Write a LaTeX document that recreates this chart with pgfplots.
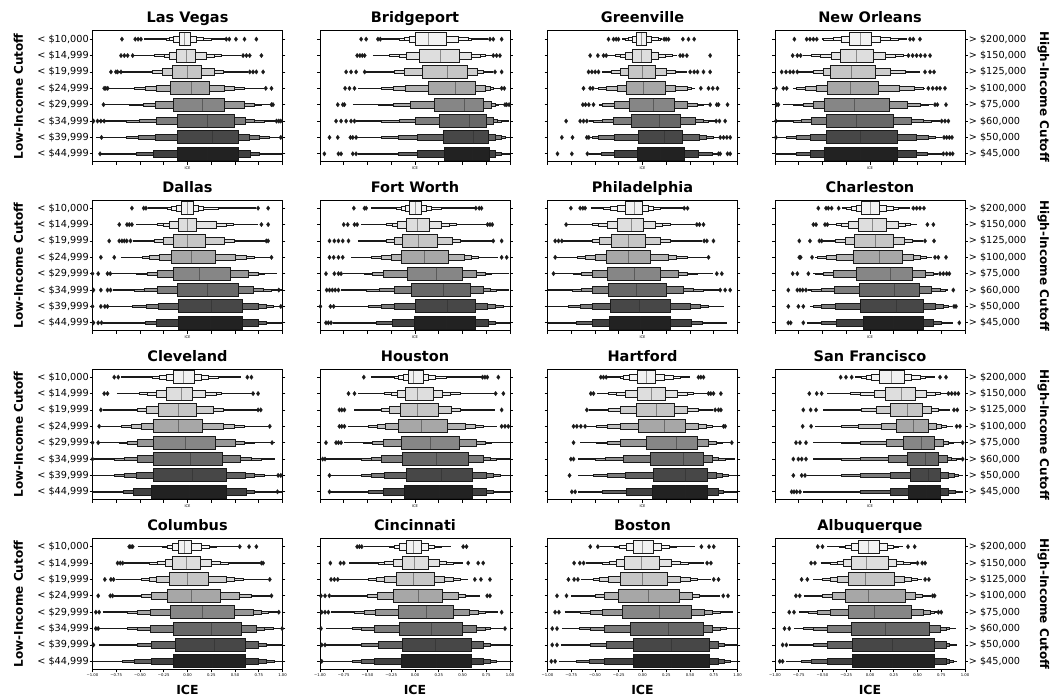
\documentclass[border=0pt]{standalone}
\usepackage{fontspec}
\setmainfont{DejaVu Sans}
\usepackage{pgfplots}
\pgfplotsset{compat=1.18}
\usepgfplotslibrary{statistics}

% one grey per income cutoff, light (top row) to dark (bottom row)
\definecolor{g0}{HTML}{F2F2F2}
\definecolor{g1}{HTML}{DEDEDE}
\definecolor{g2}{HTML}{C6C6C6}
\definecolor{g3}{HTML}{A7A7A7}
\definecolor{g4}{HTML}{868686}
\definecolor{g5}{HTML}{686868}
\definecolor{g6}{HTML}{474747}
\definecolor{g7}{HTML}{222222}
\definecolor{edge}{HTML}{1A1A1A}

\pgfplotsset{
  lvbox/.style 2 args={boxplot/draw direction=x, boxplot/box extend=#2,
    boxplot/every box/.style={fill=#1, draw=edge, line width=0.65pt},
    boxplot/every whisker/.style={draw=none},
    boxplot/every median/.style={draw=none}},
  lviqr/.style={boxplot/draw direction=x, boxplot/box extend=0.8,
    boxplot/every box/.style={fill=#1, draw=edge, line width=1pt},
    boxplot/every whisker/.style={draw=none},
    boxplot/every median/.style={draw=black!85, draw opacity=0.45, line width=1pt}},
  lvline/.style={draw=edge, line width=1.5pt, mark=none},
  lvout/.style={only marks, mark=diamond*, mark size=2.3pt,
    mark options={fill=edge, draw=edge, line width=0.2pt}},
  panel/.style={
    scale only axis, width=190pt, height=131pt, anchor=north west,
    xmin=-1, xmax=1, ymin=-0.5, ymax=7.5, y dir=reverse,
    axis line style={line width=1pt, black},
    xtick={-1,-0.75,-0.5,-0.25,0,0.25,0.5,0.75,1}, ytick={0,1,2,3,4,5,6,7},
    xtick pos=left, ytick pos=both, tick align=outside,
    major tick length=2.8pt, every tick/.style={black, line width=0.8pt},
    xticklabels={}, yticklabels={},
    tick label style={font=\fontsize{9.7}{11}\selectfont},
    yticklabel style={inner sep=0.8pt},
    xlabel={ICE},
    xlabel style={font=\fontsize{3.6}{4}\selectfont, at={(axis description cs:0.5,0)}, anchor=center, yshift=-6.5pt},
    title style={font=\bfseries\fontsize{14.5}{17}\selectfont, at={(axis description cs:0.5,1)}, anchor=base, yshift=2pt},
  },
  leftcol/.style={
    yticklabel pos=left,
    yticklabels={{< \$10,000},{< \$14,999},{< \$19,999},{< \$24,999},{< \$29,999},{< \$34,999},{< \$39,999},{< \$44,999}},
    ylabel={Low-Income Cutoff},
    ylabel style={font=\bfseries\fontsize{12}{14}\selectfont, at={(axis description cs:0,0.5)}, anchor=center, yshift=74pt}},
  rightcol/.style={
    yticklabel pos=right,
    yticklabels={{> \$200,000},{> \$150,000},{> \$125,000},{> \$100,000},{> \$75,000},{> \$60,000},{> \$50,000},{> \$45,000}},
    ylabel={High-Income Cutoff},
    ylabel style={font=\bfseries\fontsize{12}{14}\selectfont, at={(axis description cs:1,0.5)}, anchor=center, rotate=180, yshift=78.5pt}},
  bottomrow/.style={
    xticklabels={−1.00,−0.75,−0.50,−0.25,0.00,0.25,0.50,0.75,1.00},
    xticklabel style={font=\fontsize{3.8}{4}\selectfont, inner sep=0.8pt},
    xlabel style={font=\bfseries\fontsize{12.5}{14}\selectfont, yshift=-13.5pt}},
}

% one letter-value row: y, q1, median, q3, level-2 lo/hi, level-3 lo/hi, {level-4 lo/hi/tail lo/tail hi}
\def\lvtail#1#2/#3/#4/#5\relax{%
  \addplot[lvline] coordinates {(#4,#1) (#5,#1)};
  \addplot[lvbox={g#1!58!white}{0.1}, boxplot prepared={draw position=#1, lower whisker=#2, lower quartile=#2, median=#2, upper quartile=#3, upper whisker=#3}] coordinates {};
}
\newcommand\lvrow[9]{%
  \lvtail{#1}#9\relax
  \addplot[lvbox={g#1!72!white}{0.2}, boxplot prepared={draw position=#1, lower whisker=#7, lower quartile=#7, median=#7, upper quartile=#8, upper whisker=#8}] coordinates {};
  \addplot[lvbox={g#1!86!white}{0.4}, boxplot prepared={draw position=#1, lower whisker=#5, lower quartile=#5, median=#5, upper quartile=#6, upper whisker=#6}] coordinates {};
  \addplot[lviqr=g#1, boxplot prepared={draw position=#1, lower whisker=#2, lower quartile=#2, median=#3, upper quartile=#4, upper whisker=#4}] coordinates {};
}
% outlying tracts of one row: y, list of ICE values
\newcommand\outl[2]{%
  \gdef\olacc{}%
  \foreach \v in {#2}{\xdef\olacc{\olacc(\v,#1)}}%
  \edef\oltmp{\noexpand\addplot[lvout] coordinates {\olacc};}%
  \oltmp}

\begin{document}
\begin{tikzpicture}
\path[use as bounding box] (0,0) rectangle (1052pt,-695pt);

% ---------------- row 1 ----------------
\begin{axis}[panel, leftcol, at={(92.5pt,-31pt)}, title={Las Vegas}]
\lvrow{0}{-0.085}{-0.028}{0.028}{-0.144}{0.092}{-0.19}{0.162}{-0.225/0.25/-0.454/0.39}
\lvrow{1}{-0.12}{-0.014}{0.085}{-0.19}{0.197}{-0.243}{0.285}{-0.35/0.356/-0.56/0.567}
\lvrow{2}{-0.155}{-0.004}{0.144}{-0.27}{0.278}{-0.366}{0.373}{-0.454/0.46/-0.72/0.637}
\lvrow{3}{-0.18}{0.046}{0.232}{-0.33}{0.39}{-0.447}{0.496}{-0.56/0.6/-0.86/0.81}
\lvrow{4}{-0.144}{0.155}{0.39}{-0.338}{0.6}{-0.47}{0.708}{-0.613/0.778/-0.877/0.884}
\lvrow{5}{-0.109}{0.215}{0.496}{-0.33}{0.61}{-0.507}{0.708}{-0.648/0.81/-0.93/0.954}
\lvrow{6}{-0.102}{0.261}{0.539}{-0.342}{0.648}{-0.518}{0.76}{-0.648/0.866/-0.965/1.0}
\lvrow{7}{-0.102}{0.215}{0.539}{-0.356}{0.665}{-0.542}{0.76}{-0.673/0.85/-0.93/1.0}
\outl{0}{-0.69,-0.55,-0.52,-0.49,0.408,0.44,0.51,0.60,0.725}
\outl{1}{-0.70,-0.665,-0.63,-0.577,0.585,0.62,0.655,0.778}
\outl{2}{-0.806,-0.754,-0.736,-0.70,0.655,0.69,0.725,0.796}
\outl{3}{-0.877,-0.86,-0.84,0.824,0.884}
\outl{4}{-0.884,0.884,0.90}
\outl{5}{-0.99,-0.947,-0.912,-0.877,0.937,0.961,0.982}
\outl{6}{-0.905,0.982}
\outl{7}{-0.92}
\end{axis}

\begin{axis}[panel, at={(320pt,-31pt)}, title={Bridgeport}]
\lvrow{0}{0.007}{0.144}{0.331}{-0.056}{0.454}{-0.109}{0.56}{-0.16/0.595/-0.356/0.771}
\lvrow{1}{0.049}{0.271}{0.472}{-0.092}{0.595}{-0.162}{0.683}{-0.268/0.736/-0.444/0.806}
\lvrow{2}{0.077}{0.338}{0.553}{-0.109}{0.658}{-0.215}{0.718}{-0.32/0.771/-0.514/0.824}
\lvrow{3}{0.137}{0.426}{0.637}{-0.102}{0.743}{-0.232}{0.789}{-0.356/0.824/-0.595/0.894}
\lvrow{4}{0.208}{0.518}{0.718}{-0.049}{0.806}{-0.232}{0.842}{-0.39/0.877/-0.655/0.982}
\lvrow{5}{0.261}{0.57}{0.754}{0.007}{0.824}{-0.162}{0.87}{-0.356/0.912/-0.62/0.99}
\lvrow{6}{0.296}{0.613}{0.778}{0.025}{0.849}{-0.18}{0.912}{-0.356/0.947/-0.673/1.0}
\lvrow{7}{0.306}{0.60}{0.782}{0.025}{0.849}{-0.18}{0.905}{-0.356/0.947/-0.60/1.0}
\outl{0}{-0.567,-0.514,-0.39,-0.365,0.789,0.824,0.912}
\outl{1}{-0.609,-0.58,-0.555,-0.53,0.824,0.859,0.894}
\outl{2}{-0.725,-0.673,-0.62,-0.53,0.842,0.912}
\outl{3}{-0.736,-0.69,-0.637,0.912,0.94}
\outl{4}{-0.813,-0.76,-0.743,0.947,0.965,0.99}
\outl{5}{-0.831,-0.778,-0.725,-0.673,-0.637}
\outl{6}{-0.90,-0.813,-0.68,-0.655,-0.62}
\outl{7}{-0.954,-0.806,-0.778,-0.655,-0.62}
\end{axis}

\begin{axis}[panel, at={(547.5pt,-31pt)}, title={Greenville}]
\lvrow{0}{-0.067}{-0.011}{0.046}{-0.112}{0.098}{-0.147}{0.168}{-0.18/0.19/-0.218/0.21}
\lvrow{1}{-0.105}{-0.011}{0.091}{-0.182}{0.168}{-0.235}{0.239}{-0.288/0.309/-0.375/0.361}
\lvrow{2}{-0.147}{-0.004}{0.14}{-0.235}{0.249}{-0.323}{0.344}{-0.375/0.414/-0.428/0.467}
\lvrow{3}{-0.172}{0.014}{0.239}{-0.27}{0.344}{-0.386}{0.467}{-0.46/0.51/-0.498/0.554}
\lvrow{4}{-0.137}{0.116}{0.337}{-0.298}{0.467}{-0.428}{0.572}{-0.45/0.64/-0.463/0.695}
\lvrow{5}{-0.112}{0.179}{0.396}{-0.305}{0.554}{-0.428}{0.642}{-0.516/0.695/-0.558/0.765}
\lvrow{6}{-0.042}{0.228}{0.425}{-0.298}{0.60}{-0.463}{0.677}{-0.53/0.747/-0.551/0.80}
\lvrow{7}{-0.053}{0.186}{0.442}{-0.298}{0.589}{-0.435}{0.73}{-0.516/0.782/-0.558/0.79}
\outl{0}{-0.358,-0.305,-0.277,-0.253,0.228,0.249,0.274,0.425,0.484,0.544}
\outl{1}{-0.551,-0.47,-0.41,-0.382,0.396,0.425,0.467,0.712}
\outl{2}{-0.568,-0.533,-0.498,-0.463,0.502,0.544,0.579,0.642,0.712}
\outl{3}{-0.621,-0.551,-0.523,0.614,0.695,0.74,0.789}
\outl{4}{-0.628,-0.6,-0.565,-0.516,0.712,0.782,0.8,0.895}
\outl{5}{-0.804,-0.656,-0.621,-0.586,0.775,0.81,0.87}
\outl{6}{-0.849,-0.737,-0.586,-0.565,0.818,0.853,0.888,0.923}
\outl{7}{-0.895,-0.744,-0.58,0.8,0.818,0.895,0.923}
\end{axis}

\begin{axis}[panel, rightcol, at={(775pt,-31pt)}, title={New Orleans}]
\lvrow{0}{-0.211}{-0.095}{0.018}{-0.298}{0.105}{-0.386}{0.211}{-0.491/0.298/-0.509/0.386}
\lvrow{1}{-0.309}{-0.14}{0.035}{-0.404}{0.158}{-0.526}{0.263}{-0.614/0.351/-0.702/0.386}
\lvrow{2}{-0.414}{-0.193}{0.06}{-0.491}{0.211}{-0.596}{0.368}{-0.684/0.474/-0.754/0.526}
\lvrow{3}{-0.449}{-0.204}{0.088}{-0.561}{0.309}{-0.684}{0.463}{-0.772/0.561/-0.807/0.579}
\lvrow{4}{-0.474}{-0.165}{0.204}{-0.596}{0.396}{-0.702}{0.526}{-0.807/0.614/-0.912/0.667}
\lvrow{5}{-0.463}{-0.14}{0.246}{-0.614}{0.439}{-0.719}{0.561}{-0.807/0.649/-0.982/0.737}
\lvrow{6}{-0.456}{-0.098}{0.288}{-0.625}{0.484}{-0.772}{0.614}{-0.877/0.684/-0.982/0.754}
\lvrow{7}{-0.481}{-0.105}{0.288}{-0.632}{0.484}{-0.779}{0.604}{-0.877/0.684/-1.0/0.754}
\outl{0}{-0.796,-0.667,-0.632,-0.596,-0.561,0.421,0.456,0.526}
\outl{1}{-0.814,-0.765,-0.73,0.404,0.449,0.491,0.533,0.579,0.632}
\outl{2}{-0.93,-0.884,-0.842,-0.807,-0.765,0.579,0.632,0.674}
\outl{3}{-0.99,-0.912,-0.877,0.614,0.66,0.702,0.737,0.789}
\outl{4}{-0.982,-0.965,0.684,0.709,0.8}
\outl{5}{-0.99,0.754,0.789,0.825}
\outl{6}{-0.99,0.779,0.807,0.835,0.863}
\outl{7}{0.772,0.807,0.842,0.87}
\end{axis}

% ---------------- row 2 ----------------
\begin{axis}[panel, leftcol, at={(92.5pt,-200pt)}, title={Dallas}]
\lvrow{0}{-0.06}{0.0}{0.063}{-0.12}{0.109}{-0.173}{0.162}{-0.215/0.32/-0.419/0.725}
\lvrow{1}{-0.095}{0.0}{0.095}{-0.19}{0.303}{-0.25}{0.408}{-0.313/0.479/-0.542/0.743}
\lvrow{2}{-0.144}{-0.004}{0.19}{-0.25}{0.39}{-0.349}{0.496}{-0.419/0.585/-0.577/0.813}
\lvrow{3}{-0.173}{0.039}{0.292}{-0.296}{0.504}{-0.401}{0.62}{-0.472/0.708/-0.70/0.901}
\lvrow{4}{-0.144}{0.127}{0.454}{-0.313}{0.637}{-0.426}{0.743}{-0.542/0.813/-0.806/0.937}
\lvrow{5}{-0.109}{0.208}{0.532}{-0.313}{0.697}{-0.454}{0.796}{-0.56/0.884/-0.789/0.99}
\lvrow{6}{-0.092}{0.25}{0.577}{-0.306}{0.743}{-0.437}{0.831}{-0.577/0.901/-0.824/1.0}
\lvrow{7}{-0.092}{0.243}{0.577}{-0.331}{0.743}{-0.447}{0.831}{-0.595/0.901/-0.894/1.0}
\outl{0}{-0.585,-0.461,-0.437,0.743,0.849}
\outl{1}{-0.718,-0.637,-0.613,-0.585,0.778,0.849}
\outl{2}{-0.824,-0.718,-0.69,-0.665,-0.64,-0.6,0.83,0.849}
\outl{3}{-0.912,-0.771,0.884}
\outl{4}{-1.0,-0.94,-0.842,-0.813}
\outl{5}{-0.99,-0.912,-0.842,-0.81,0.961}
\outl{6}{-1.0,-0.912,-0.87,-0.842,0.982}
\outl{7}{-0.99,-0.94,-0.905}
\end{axis}

\begin{axis}[panel, at={(320pt,-200pt)}, title={Fort Worth}]
\lvrow{0}{-0.056}{0.004}{0.067}{-0.102}{0.12}{-0.144}{0.173}{-0.197/0.278/-0.461/0.63}
\lvrow{1}{-0.092}{0.025}{0.148}{-0.187}{0.278}{-0.243}{0.366}{-0.303/0.437/-0.567/0.754}
\lvrow{2}{-0.127}{0.042}{0.232}{-0.222}{0.39}{-0.303}{0.482}{-0.391/0.577/-0.602/0.806}
\lvrow{3}{-0.137}{0.102}{0.349}{-0.25}{0.518}{-0.356}{0.588}{-0.461/0.666/-0.673/0.877}
\lvrow{4}{-0.081}{0.225}{0.496}{-0.338}{0.648}{-0.444}{0.736}{-0.532/0.806/-0.761/0.99}
\lvrow{5}{-0.039}{0.296}{0.588}{-0.222}{0.718}{-0.373}{0.789}{-0.514/0.859/-0.778/0.99}
\lvrow{6}{0.004}{0.342}{0.637}{-0.222}{0.764}{-0.356}{0.842}{-0.496/0.93/-0.849/1.0}
\lvrow{7}{-0.01}{0.33}{0.637}{-0.243}{0.771}{-0.408}{0.842}{-0.532/0.93/-0.866/1.0}
\outl{0}{-0.644,-0.532,-0.514,0.64,0.676,0.70}
\outl{1}{-0.75,-0.708,-0.637,-0.609,0.764,0.789,0.813}
\outl{2}{-0.9,-0.849,-0.806,-0.761,-0.7,0.824,0.912}
\outl{3}{-0.9,-0.856,-0.806,-0.761,0.912,0.965}
\outl{4}{-0.937,-0.849,-0.806,-0.778}
\outl{5}{-0.93,-0.9,-0.87,-0.84,-0.806}
\outl{6}{-0.996,-0.89,-0.856}
\outl{7}{-0.937,-0.912,-0.884}
\end{axis}

\begin{axis}[panel, at={(547.5pt,-200pt)}, title={Philadelphia}]
\lvrow{0}{-0.182}{-0.081}{0.0}{-0.27}{0.063}{-0.34}{0.116}{-0.411/0.186/-0.544/0.432}
\lvrow{1}{-0.263}{-0.112}{0.011}{-0.375}{0.133}{-0.463}{0.204}{-0.533/0.291/-0.796/0.554}
\lvrow{2}{-0.33}{-0.147}{0.035}{-0.453}{0.186}{-0.533}{0.291}{-0.604/0.361/-0.832/0.625}
\lvrow{3}{-0.375}{-0.147}{0.088}{-0.498}{0.267}{-0.604}{0.361}{-0.691/0.467/-0.902/0.677}
\lvrow{4}{-0.365}{-0.088}{0.193}{-0.523}{0.372}{-0.639}{0.467}{-0.726/0.572/-0.919/0.747}
\lvrow{5}{-0.358}{-0.06}{0.249}{-0.533}{0.432}{-0.639}{0.537}{-0.744/0.642/-0.99/0.80}
\lvrow{6}{-0.333}{-0.032}{0.298}{-0.523}{0.502}{-0.656}{0.607}{-0.779/0.695/-1.0/0.853}
\lvrow{7}{-0.347}{-0.025}{0.298}{-0.533}{0.509}{-0.698}{0.632}{-0.796/0.73/-1.0/0.888}
\outl{0}{-0.754,-0.656,-0.628,-0.604,0.439,0.474}
\outl{1}{-0.804,0.572,0.6,0.642}
\outl{2}{-0.919,-0.884,-0.849,0.649,0.677,0.747}
\outl{3}{-0.919,0.695}
\outl{4}{-0.937,0.782,0.835}
\outl{5}{0.818,0.87,0.923}
\end{axis}

\begin{axis}[panel, rightcol, at={(775pt,-200pt)}, title={Charleston}]
\lvrow{0}{-0.088}{0.007}{0.105}{-0.14}{0.175}{-0.193}{0.246}{-0.246/0.298/-0.298/0.421}
\lvrow{1}{-0.123}{0.025}{0.175}{-0.228}{0.298}{-0.298}{0.368}{-0.351/0.421/-0.439/0.491}
\lvrow{2}{-0.165}{0.053}{0.246}{-0.263}{0.358}{-0.368}{0.449}{-0.456/0.491/-0.526/0.561}
\lvrow{3}{-0.175}{0.098}{0.34}{-0.351}{0.456}{-0.456}{0.526}{-0.55/0.596/-0.579/0.649}
\lvrow{4}{-0.147}{0.211}{0.449}{-0.386}{0.579}{-0.491}{0.667}{-0.58/0.71/-0.596/0.719}
\lvrow{5}{-0.112}{0.253}{0.526}{-0.379}{0.649}{-0.509}{0.737}{-0.614/0.789/-0.649/0.825}
\lvrow{6}{-0.095}{0.281}{0.568}{-0.368}{0.684}{-0.509}{0.772}{-0.6/0.825/-0.632/0.86}
\lvrow{7}{-0.07}{0.246}{0.568}{-0.351}{0.667}{-0.509}{0.754}{-0.614/0.807/-0.667/0.877}
\outl{0}{-0.544,-0.463,-0.439,-0.404,-0.33,0.456,0.491,0.526,0.568}
\outl{1}{-0.596,-0.568,-0.474,-0.449,0.604,0.667}
\outl{2}{-0.744,-0.632,-0.533,-0.509,0.579,0.674}
\outl{3}{-0.744,-0.73,-0.61,0.684,0.719,0.8}
\outl{4}{-0.814,-0.765,-0.649,0.737,0.772,0.807,0.835}
\outl{5}{-0.86,-0.765,-0.737,-0.709,-0.674,0.877}
\outl{6}{-0.86,-0.754,-0.702,0.884,0.905}
\outl{7}{-0.86,-0.835,-0.702,0.94}
\end{axis}

% ---------------- row 3 ----------------
\begin{axis}[panel, leftcol, at={(92.5pt,-369pt)}, title={Cleveland}]
\lvrow{0}{-0.144}{-0.039}{0.074}{-0.218}{0.144}{-0.296}{0.215}{-0.366/0.32/-0.70/0.567}
\lvrow{1}{-0.225}{-0.067}{0.056}{-0.331}{0.187}{-0.419}{0.303}{-0.507/0.356/-0.743/0.708}
\lvrow{2}{-0.303}{-0.095}{0.092}{-0.437}{0.275}{-0.525}{0.373}{-0.63/0.46/-0.894/0.736}
\lvrow{3}{-0.356}{-0.095}{0.162}{-0.489}{0.373}{-0.595}{0.496}{-0.70/0.60/-0.912/0.849}
\lvrow{4}{-0.356}{-0.025}{0.292}{-0.525}{0.504}{-0.63}{0.602}{-0.718/0.708/-0.947/0.92}
\lvrow{5}{-0.363}{0.028}{0.366}{-0.532}{0.556}{-0.665}{0.673}{-0.771/0.778/-0.982/0.92}
\lvrow{6}{-0.356}{0.056}{0.408}{-0.542}{0.609}{-0.665}{0.708}{-0.771/0.813/-1.0/1.0}
\lvrow{7}{-0.384}{0.021}{0.408}{-0.567}{0.62}{-0.673}{0.708}{-0.778/0.796/-1.0/1.0}
\outl{0}{-0.771,-0.729,0.63,0.673}
\outl{1}{-0.877,-0.842,0.69,0.743}
\outl{2}{-0.912,0.743,0.771}
\outl{3}{-0.93,0.866}
\outl{4}{-1.0,-0.94,0.89}
\outl{5}{-1.0}
\outl{6}{0.954,0.982}
\outl{7}{0.947}
\end{axis}

\begin{axis}[panel, at={(320pt,-369pt)}, title={Houston}]
\lvrow{0}{-0.067}{-0.011}{0.085}{-0.127}{0.137}{-0.173}{0.215}{-0.222/0.331/-0.461/0.70}
\lvrow{1}{-0.102}{0.025}{0.19}{-0.187}{0.285}{-0.25}{0.377}{-0.32/0.472/-0.602/0.842}
\lvrow{2}{-0.151}{0.025}{0.243}{-0.268}{0.384}{-0.356}{0.472}{-0.444/0.56/-0.637/0.842}
\lvrow{3}{-0.173}{0.067}{0.342}{-0.313}{0.525}{-0.398}{0.63}{-0.496/0.718/-0.708/0.86}
\lvrow{4}{-0.144}{0.165}{0.472}{-0.338}{0.648}{-0.444}{0.736}{-0.549/0.806/-0.743/1.0}
\lvrow{5}{-0.127}{0.225}{0.56}{-0.356}{0.718}{-0.461}{0.789}{-0.567/0.859/-0.954/1.0}
\lvrow{6}{-0.092}{0.278}{0.602}{-0.327}{0.754}{-0.461}{0.824}{-0.567/0.894/-0.884/1.0}
\lvrow{7}{-0.109}{0.26}{0.602}{-0.338}{0.754}{-0.496}{0.824}{-0.602/0.894/-0.89/1.0}
\outl{0}{-0.539,0.711,0.736,0.761,0.877}
\outl{1}{-0.70,-0.637,0.849,0.93}
\outl{2}{-0.796,-0.771,-0.743,0.912}
\outl{3}{-0.796,-0.771,-0.743,0.912,0.947,0.982}
\outl{4}{-0.937,-0.831,-0.806,-0.778}
\outl{5}{-0.972,-0.947}
\outl{6}{-0.9}
\outl{7}{-0.9}
\end{axis}

\begin{axis}[panel, at={(547.5pt,-369pt)}, title={Hartford}]
\lvrow{0}{-0.053}{0.039}{0.133}{-0.137}{0.228}{-0.2}{0.326}{-0.235/0.396/-0.375/0.502}
\lvrow{1}{-0.049}{0.098}{0.246}{-0.182}{0.368}{-0.277}{0.467}{-0.358/0.537/-0.481/0.677}
\lvrow{2}{-0.067}{0.151}{0.337}{-0.235}{0.474}{-0.358}{0.589}{-0.463/0.677/-0.568/0.747}
\lvrow{3}{-0.042}{0.228}{0.456}{-0.235}{0.589}{-0.375}{0.677}{-0.481/0.73/-0.586/0.835}
\lvrow{4}{0.046}{0.361}{0.579}{-0.235}{0.695}{-0.375}{0.782}{-0.481/0.835/-0.656/0.923}
\lvrow{5}{0.081}{0.432}{0.642}{-0.2}{0.73}{-0.393}{0.80}{-0.498/0.87/-0.674/0.975}
\lvrow{6}{0.116}{0.456}{0.684}{-0.182}{0.782}{-0.375}{0.835}{-0.516/0.905/-0.674/0.993}
\lvrow{7}{0.105}{0.456}{0.688}{-0.172}{0.80}{-0.428}{0.853}{-0.551/0.916/-0.674/0.993}
\outl{0}{-0.439,-0.411,-0.382,0.589,0.614,0.642}
\outl{1}{-0.544,-0.516,0.695,0.719,0.747,0.825}
\outl{2}{-0.586,0.765,0.80,0.825}
\outl{3}{-0.726,-0.691,-0.649,-0.604,0.853,0.87}
\outl{4}{-0.726,0.94}
\outl{5}{-0.754,-0.726}
\outl{6}{-0.768}
\outl{7}{-0.744,-0.709}
\end{axis}

\begin{axis}[panel, rightcol, at={(775pt,-369pt)}, title={San Francisco}]
\lvrow{0}{0.098}{0.228}{0.358}{0.018}{0.439}{-0.035}{0.526}{-0.088/0.579/-0.158/0.684}
\lvrow{1}{0.165}{0.333}{0.484}{0.042}{0.596}{-0.105}{0.684}{-0.211/0.737/-0.449/0.807}
\lvrow{2}{0.211}{0.396}{0.551}{0.063}{0.649}{-0.088}{0.719}{-0.246/0.772/-0.491/0.842}
\lvrow{3}{0.274}{0.463}{0.614}{0.123}{0.702}{-0.123}{0.754}{-0.298/0.807/-0.579/0.877}
\lvrow{4}{0.351}{0.544}{0.684}{0.175}{0.772}{-0.105}{0.825}{-0.298/0.877/-0.596/0.965}
\lvrow{5}{0.393}{0.586}{0.719}{0.193}{0.814}{-0.105}{0.86}{-0.298/0.912/-0.596/0.965}
\lvrow{6}{0.421}{0.614}{0.747}{0.211}{0.825}{-0.105}{0.884}{-0.298/0.93/-0.667/0.982}
\lvrow{7}{0.404}{0.596}{0.747}{0.211}{0.825}{-0.105}{0.895}{-0.298/0.94/-0.702/0.982}
\outl{0}{-0.309,-0.253,-0.193,0.737,0.80}
\outl{1}{-0.639,-0.561,-0.509,0.825,0.86,0.895,0.93}
\outl{2}{-0.702,-0.625,-0.568,0.884,0.919}
\outl{3}{-0.709,-0.62,0.912,0.947}
\outl{4}{-0.779,-0.737,-0.674,0.975}
\outl{5}{-0.807,-0.754,-0.719,-0.674,0.975}
\outl{6}{-0.807,-0.719,-0.684}
\outl{7}{-0.825,-0.8,-0.772,-0.737}
\end{axis}

% ---------------- row 4 ----------------
\begin{axis}[panel, leftcol, bottomrow, at={(92.5pt,-538.5pt)}, title={Columbus}]
\lvrow{0}{-0.095}{-0.032}{0.046}{-0.165}{0.144}{-0.215}{0.232}{-0.261/0.303/-0.525/0.532}
\lvrow{1}{-0.155}{-0.007}{0.137}{-0.236}{0.25}{-0.313}{0.349}{-0.401/0.426/-0.665/0.761}
\lvrow{2}{-0.19}{-0.004}{0.222}{-0.331}{0.408}{-0.401}{0.496}{-0.489/0.585/-0.754/0.849}
\lvrow{3}{-0.208}{0.039}{0.345}{-0.384}{0.549}{-0.489}{0.673}{-0.577/0.761/-0.771/0.877}
\lvrow{4}{-0.18}{0.162}{0.49}{-0.391}{0.69}{-0.525}{0.778}{-0.63/0.849/-0.894/0.954}
\lvrow{5}{-0.144}{0.25}{0.567}{-0.391}{0.725}{-0.525}{0.813}{-0.63/0.901/-0.93/0.99}
\lvrow{6}{-0.127}{0.285}{0.609}{-0.377}{0.75}{-0.525}{0.831}{-0.648/0.919/-0.93/1.0}
\lvrow{7}{-0.144}{0.268}{0.609}{-0.384}{0.75}{-0.56}{0.831}{-0.683/0.919/-1.0/1.0}
\outl{0}{-0.613,-0.595,-0.577,0.55,0.648,0.725}
\outl{1}{-0.736,-0.708,-0.683,0.778,0.796}
\outl{2}{-0.87,-0.806,-0.778,0.866}
\outl{3}{-0.94,-0.813,-0.789,0.884}
\outl{4}{-0.965,-0.93,0.961}
\outl{5}{-0.965,-0.94,0.996}
\outl{6}{-0.99}
\end{axis}

\begin{axis}[panel, bottomrow, at={(320pt,-538.5pt)}, title={Cincinnati}]
\lvrow{0}{-0.092}{-0.011}{0.067}{-0.162}{0.144}{-0.215}{0.208}{-0.268/0.278/-0.532/0.384}
\lvrow{1}{-0.134}{-0.004}{0.137}{-0.232}{0.261}{-0.32}{0.331}{-0.391/0.401/-0.69/0.507}
\lvrow{2}{-0.197}{-0.021}{0.208}{-0.327}{0.313}{-0.408}{0.401}{-0.496/0.472/-0.796/0.56}
\lvrow{3}{-0.222}{0.032}{0.289}{-0.398}{0.454}{-0.504}{0.525}{-0.602/0.588/-0.884/0.683}
\lvrow{4}{-0.173}{0.12}{0.408}{-0.419}{0.577}{-0.532}{0.665}{-0.637/0.736/-0.884/0.877}
\lvrow{5}{-0.162}{0.173}{0.496}{-0.426}{0.648}{-0.567}{0.736}{-0.655/0.789/-0.937/0.93}
\lvrow{6}{-0.127}{0.218}{0.595}{-0.391}{0.718}{-0.567}{0.789}{-0.673/0.859/-0.937/1.0}
\lvrow{7}{-0.137}{0.225}{0.595}{-0.426}{0.718}{-0.567}{0.789}{-0.655/0.859/-0.972/1.0}
\outl{0}{-0.609,-0.585,-0.56,0.507,0.542}
\outl{1}{-0.891,-0.785,-0.75,0.56,0.665,0.718}
\outl{2}{-0.884,-0.849,-0.813,0.63,0.694,0.789}
\outl{3}{-0.99,-0.947,-0.901,0.76,0.789}
\outl{4}{-0.982,-0.947,-0.912,0.912}
\outl{5}{-0.99,0.947}
\outl{6}{-0.982,-0.947}
\outl{7}{-0.982}
\end{axis}

\begin{axis}[panel, bottomrow, at={(547.5pt,-538.5pt)}, title={Boston}]
\lvrow{0}{-0.10}{0.0}{0.12}{-0.17}{0.20}{-0.24}{0.28}{-0.30/0.36/-0.45/0.55}
\lvrow{1}{-0.19}{-0.01}{0.18}{-0.28}{0.30}{-0.35}{0.40}{-0.42/0.48/-0.60/0.65}
\lvrow{2}{-0.23}{0.0}{0.26}{-0.36}{0.40}{-0.45}{0.50}{-0.52/0.58/-0.65/0.72}
\lvrow{3}{-0.25}{0.06}{0.39}{-0.40}{0.52}{-0.50}{0.60}{-0.60/0.68/-0.75/0.82}
\lvrow{4}{-0.21}{0.18}{0.52}{-0.42}{0.65}{-0.55}{0.74}{-0.65/0.82/-0.82/0.95}
\lvrow{5}{-0.13}{0.27}{0.64}{-0.40}{0.74}{-0.55}{0.82}{-0.66/0.88/-0.85/1.0}
\lvrow{6}{-0.10}{0.31}{0.70}{-0.38}{0.80}{-0.55}{0.86}{-0.68/0.92/-0.86/1.0}
\lvrow{7}{-0.10}{0.30}{0.70}{-0.40}{0.80}{-0.56}{0.86}{-0.70/0.92/-0.88/1.0}
\outl{0}{-0.55,-0.47,0.62,0.70,0.75}
\outl{1}{-0.72,-0.66,-0.62,0.68,0.72}
\outl{2}{-0.78,-0.72,-0.68,0.75,0.80}
\outl{3}{-0.90,-0.80,0.85,0.90}
\outl{4}{-0.92,-0.88}
\outl{5}{-0.95,-0.90}
\outl{6}{-0.95,-0.90}
\outl{7}{-0.96,-0.92}
\end{axis}

\begin{axis}[panel, rightcol, bottomrow, at={(775pt,-538.5pt)}, title={Albuquerque}]
\lvrow{0}{-0.126}{-0.02}{0.105}{-0.20}{0.18}{-0.26}{0.25}{-0.32/0.30/-0.45/0.35}
\lvrow{1}{-0.19}{-0.04}{0.19}{-0.28}{0.28}{-0.34}{0.35}{-0.42/0.42/-0.52/0.48}
\lvrow{2}{-0.23}{-0.05}{0.26}{-0.34}{0.36}{-0.42}{0.44}{-0.50/0.50/-0.60/0.55}
\lvrow{3}{-0.26}{-0.02}{0.37}{-0.40}{0.48}{-0.50}{0.55}{-0.58/0.60/-0.70/0.64}
\lvrow{4}{-0.23}{0.05}{0.44}{-0.42}{0.56}{-0.55}{0.64}{-0.65/0.68/-0.75/0.70}
\lvrow{5}{-0.19}{0.16}{0.63}{-0.45}{0.74}{-0.60}{0.80}{-0.70/0.84/-0.80/0.90}
\lvrow{6}{-0.18}{0.24}{0.68}{-0.45}{0.80}{-0.60}{0.84}{-0.70/0.88/-0.85/0.92}
\lvrow{7}{-0.18}{0.24}{0.68}{-0.45}{0.80}{-0.62}{0.84}{-0.72/0.88/-0.88/0.92}
\outl{0}{-0.55,-0.50,0.40,0.47}
\outl{1}{-0.62,-0.58,0.50,0.55,0.58}
\outl{2}{-0.72,-0.66,0.58,0.62}
\outl{3}{-0.78,-0.74,0.66,0.68}
\outl{4}{-0.85,-0.80,0.72,0.75}
\outl{5}{-0.90,-0.85}
\outl{6}{-0.92,-0.88}
\outl{7}{-0.95,-0.92}
\end{axis}
\end{tikzpicture}
\end{document}
